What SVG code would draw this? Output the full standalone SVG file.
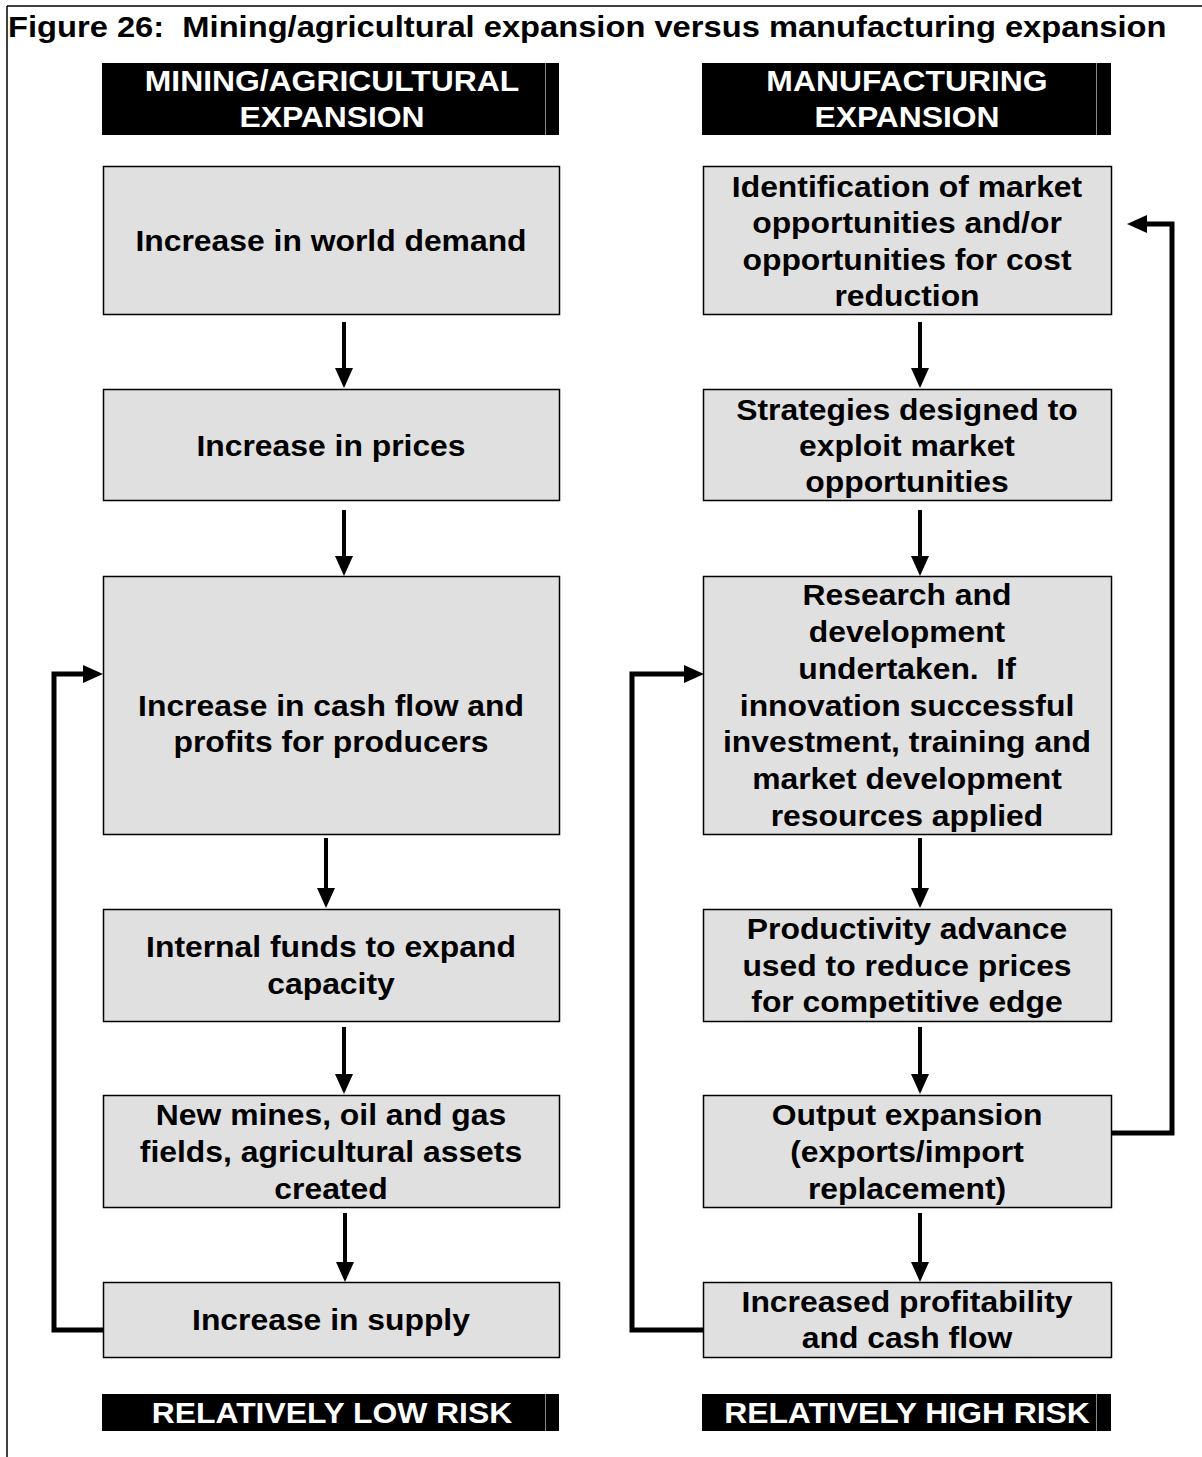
<svg xmlns="http://www.w3.org/2000/svg" width="1202" height="1457" viewBox="0 0 1202 1457">
<defs>
<style>
.frame{stroke:#000;stroke-width:1.5;fill:none}
.box{fill:#e0e0e0;stroke:#000;stroke-width:1.5}
.hdr{fill:#000}
.t{font-family:"Liberation Sans",Arial,sans-serif;font-weight:bold;font-size:29.5px;fill:#000;text-anchor:middle}
.w{fill:#fff}
.title{font-family:"Liberation Sans",Arial,sans-serif;font-weight:bold;font-size:30px;fill:#000}
.arr{stroke:#000;stroke-width:4;fill:none}
.loop{stroke:#000;stroke-width:5;fill:none}
</style>
<marker id="ah" viewBox="0 0 20 18" refX="9" refY="9" markerWidth="20" markerHeight="18" orient="auto" markerUnits="userSpaceOnUse">
<path d="M0,0 L20,9 L0,18 z" fill="#000"/>
</marker>
</defs>
<rect width="1202" height="1457" fill="#fff"/>
<g id="frame">
<line class="frame" x1="7" y1="6" x2="1202" y2="6"/>
<line class="frame" x1="7" y1="6" x2="7" y2="1457"/>
</g>
<g id="title">
<text class="title" transform="translate(8,37) scale(1.09,1)" x="0" y="0" xml:space="preserve">Figure 26:  Mining/agricultural expansion versus manufacturing expansion</text>
</g>

<g id="hdr-left">
<rect class="hdr" x="102" y="63" width="457" height="72"/>
<line x1="545.5" y1="63" x2="545.5" y2="135" stroke="#888" stroke-width="1"/>
<text class="t w" transform="translate(332,0) scale(1.08,1)" x="0" y="91">MINING/AGRICULTURAL</text>
<text class="t w" transform="translate(332,0) scale(1.08,1)" x="0" y="127">EXPANSION</text>
</g>
<g id="hdr-right">
<rect class="hdr" x="702" y="63" width="409" height="72"/>
<line x1="1096.5" y1="63" x2="1096.5" y2="135" stroke="#888" stroke-width="1"/>
<text class="t w" transform="translate(907,0) scale(1.08,1)" x="0" y="91">MANUFACTURING</text>
<text class="t w" transform="translate(907,0) scale(1.08,1)" x="0" y="127">EXPANSION</text>
</g>

<g id="L1">
<rect class="box" x="103.5" y="166.5" width="456" height="148"/>
<text class="t" transform="translate(331,0) scale(1.08,1)" x="0" y="251">Increase in world demand</text>
</g>
<g id="L2">
<rect class="box" x="103.5" y="389.5" width="456" height="111"/>
<text class="t" transform="translate(331,0) scale(1.08,1)" x="0" y="456">Increase in prices</text>
</g>
<g id="L3">
<rect class="box" x="103.5" y="576.5" width="456" height="258"/>
<text class="t" transform="translate(331,0) scale(1.08,1)" x="0" y="716">Increase in cash flow and</text>
<text class="t" transform="translate(331,0) scale(1.08,1)" x="0" y="752">profits for producers</text>
</g>
<g id="L4">
<rect class="box" x="103.5" y="909.5" width="456" height="112"/>
<text class="t" transform="translate(331,0) scale(1.08,1)" x="0" y="957">Internal funds to expand</text>
<text class="t" transform="translate(331,0) scale(1.08,1)" x="0" y="994">capacity</text>
</g>
<g id="L5">
<rect class="box" x="103.5" y="1095.5" width="456" height="112"/>
<text class="t" transform="translate(331,0) scale(1.08,1)" x="0" y="1125">New mines, oil and gas</text>
<text class="t" transform="translate(331,0) scale(1.08,1)" x="0" y="1162">fields, agricultural assets</text>
<text class="t" transform="translate(331,0) scale(1.08,1)" x="0" y="1199">created</text>
</g>
<g id="L6">
<rect class="box" x="103.5" y="1282.5" width="456" height="75"/>
<text class="t" transform="translate(331,0) scale(1.08,1)" x="0" y="1330">Increase in supply</text>
</g>

<g id="R1">
<rect class="box" x="703.5" y="166.5" width="408" height="148"/>
<text class="t" transform="translate(907,0) scale(1.08,1)" x="0" y="197">Identification of market</text>
<text class="t" transform="translate(907,0) scale(1.08,1)" x="0" y="233">opportunities and/or</text>
<text class="t" transform="translate(907,0) scale(1.08,1)" x="0" y="270">opportunities for cost</text>
<text class="t" transform="translate(907,0) scale(1.08,1)" x="0" y="306">reduction</text>
</g>
<g id="R2">
<rect class="box" x="703.5" y="389.5" width="408" height="111"/>
<text class="t" transform="translate(907,0) scale(1.08,1)" x="0" y="420">Strategies designed to</text>
<text class="t" transform="translate(907,0) scale(1.08,1)" x="0" y="456">exploit market</text>
<text class="t" transform="translate(907,0) scale(1.08,1)" x="0" y="492">opportunities</text>
</g>
<g id="R3">
<rect class="box" x="703.5" y="576.5" width="408" height="258"/>
<text class="t" transform="translate(907,0) scale(1.08,1)" x="0" y="605">Research and</text>
<text class="t" transform="translate(907,0) scale(1.08,1)" x="0" y="642">development</text>
<text class="t" transform="translate(907,0) scale(1.08,1)" x="0" y="679" xml:space="preserve">undertaken.  If</text>
<text class="t" transform="translate(907,0) scale(1.08,1)" x="0" y="716">innovation successful</text>
<text class="t" transform="translate(907,0) scale(1.08,1)" x="0" y="752">investment, training and</text>
<text class="t" transform="translate(907,0) scale(1.08,1)" x="0" y="789">market development</text>
<text class="t" transform="translate(907,0) scale(1.08,1)" x="0" y="826">resources applied</text>
</g>
<g id="R4">
<rect class="box" x="703.5" y="909.5" width="408" height="112"/>
<text class="t" transform="translate(907,0) scale(1.08,1)" x="0" y="939">Productivity advance</text>
<text class="t" transform="translate(907,0) scale(1.08,1)" x="0" y="976">used to reduce prices</text>
<text class="t" transform="translate(907,0) scale(1.08,1)" x="0" y="1012">for competitive edge</text>
</g>
<g id="R5">
<rect class="box" x="703.5" y="1095.5" width="408" height="112"/>
<text class="t" transform="translate(907,0) scale(1.08,1)" x="0" y="1125">Output expansion</text>
<text class="t" transform="translate(907,0) scale(1.08,1)" x="0" y="1162">(exports/import</text>
<text class="t" transform="translate(907,0) scale(1.08,1)" x="0" y="1199">replacement)</text>
</g>
<g id="R6">
<rect class="box" x="703.5" y="1282.5" width="408" height="75"/>
<text class="t" transform="translate(907,0) scale(1.08,1)" x="0" y="1312">Increased profitability</text>
<text class="t" transform="translate(907,0) scale(1.08,1)" x="0" y="1348">and cash flow</text>
</g>

<g id="ftr-left">
<rect class="hdr" x="102" y="1394" width="457" height="37"/>
<line x1="545.5" y1="1394" x2="545.5" y2="1431" stroke="#888" stroke-width="1"/>
<text class="t w" transform="translate(332,0) scale(1.08,1)" x="0" y="1423">RELATIVELY LOW RISK</text>
</g>
<g id="ftr-right">
<rect class="hdr" x="702" y="1394" width="409" height="37"/>
<line x1="1096.5" y1="1394" x2="1096.5" y2="1431" stroke="#888" stroke-width="1"/>
<text class="t w" transform="translate(907,0) scale(1.08,1)" x="0" y="1423">RELATIVELY HIGH RISK</text>
</g>

<g id="connectors">
<line class="arr" x1="344" y1="322" x2="344" y2="377" marker-end="url(#ah)"/>
<line class="arr" x1="344" y1="510" x2="344" y2="565" marker-end="url(#ah)"/>
<line class="arr" x1="326" y1="838" x2="326" y2="897" marker-end="url(#ah)"/>
<line class="arr" x1="344" y1="1027" x2="344" y2="1083" marker-end="url(#ah)"/>
<line class="arr" x1="345" y1="1213" x2="345" y2="1271" marker-end="url(#ah)"/>
<line class="arr" x1="920" y1="322" x2="920" y2="377" marker-end="url(#ah)"/>
<line class="arr" x1="920" y1="510" x2="920" y2="565" marker-end="url(#ah)"/>
<line class="arr" x1="920" y1="838" x2="920" y2="897" marker-end="url(#ah)"/>
<line class="arr" x1="920" y1="1027" x2="920" y2="1083" marker-end="url(#ah)"/>
<line class="arr" x1="920" y1="1213" x2="920" y2="1271" marker-end="url(#ah)"/>
<path class="loop" d="M103,1330 H54 V674 H92" marker-end="url(#ah)"/>
<path class="loop" d="M704,1330 H632 V674 H693" marker-end="url(#ah)"/>
<path class="loop" d="M1111,1133 H1172 V224 H1138" marker-end="url(#ah)"/>
</g>
</svg>
